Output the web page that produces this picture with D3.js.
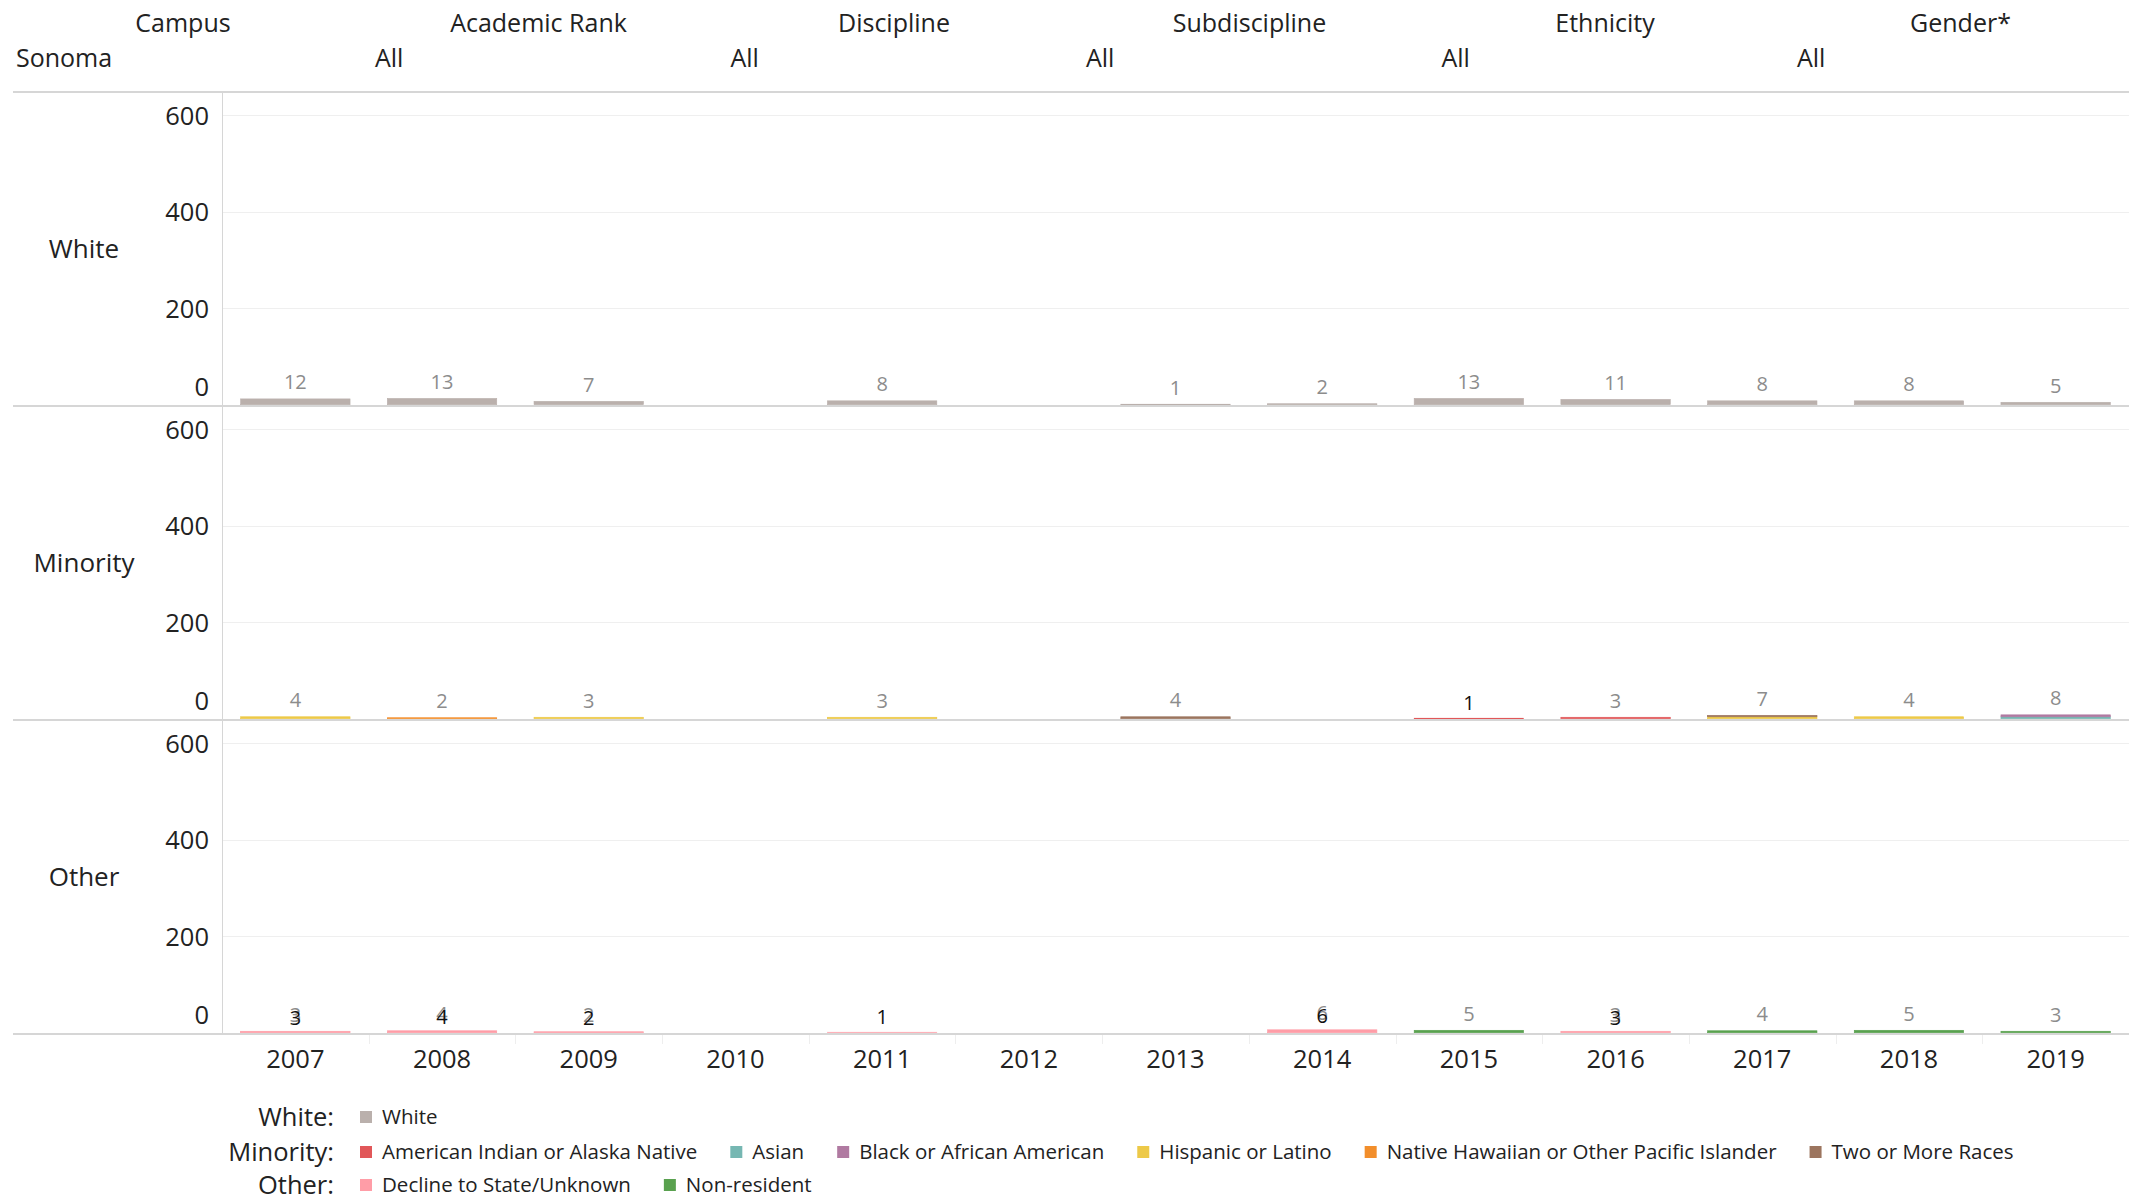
<!DOCTYPE html>
<html>
<head>
<meta charset="utf-8">
<script src="https://cdn.jsdelivr.net/npm/d3@7"></script>
<style>
  html, body { margin: 0; padding: 0; background: #fff; }
  svg { display: block; font-family: "Open Sans", "Noto Sans", sans-serif; }
</style>
</head>
<body>
<svg id="chart" width="2129" height="1201"></svg>
<script>
// ---- data ----
const years = ["2007","2008","2009","2010","2011","2012","2013","2014","2015","2016","2017","2018","2019"];
const rowNames = ["White", "Minority", "Other"];
const yTicks = [0, 200, 400, 600];

const filterTitles = ["Campus", "Academic Rank", "Discipline", "Subdiscipline", "Ethnicity", "Gender*"];
const filterValues = ["Sonoma", "All", "All", "All", "All", "All"];

// White
const whiteCounts          = [12, 13, 7, 0, 8, 0, 1, 2, 13, 11, 8, 8, 5];
// Minority
const americanIndian       = [0, 0, 0, 0, 0, 0, 0, 0, 1, 3, 0, 0, 0];
const asian                = [0, 0, 0, 0, 0, 0, 0, 0, 0, 0, 0, 0, 4];
const blackAfricanAmerican = [0, 0, 0, 0, 0, 0, 0, 0, 0, 0, 0, 0, 4];
const hispanicLatino       = [4, 0, 3, 0, 3, 0, 0, 0, 0, 0, 4, 4, 0];
const nativeHawaiianPI     = [0, 2, 0, 0, 0, 0, 0, 0, 0, 0, 0, 0, 0];
const twoOrMoreRaces       = [0, 0, 0, 0, 0, 0, 4, 0, 0, 0, 3, 0, 0];
// Other
const declineUnknown       = [3, 4, 2, 0, 1, 0, 0, 6, 0, 3, 0, 0, 0];
const nonResident          = [0, 0, 0, 0, 0, 0, 0, 0, 5, 0, 4, 5, 3];

// labels printed in black on top of the grey totals
const minorityDarkLabels = [null, null, null, null, null, null, null, null, 1, null, null, null, null];
const otherDarkLabels    = [3, 4, 2, null, 1, null, null, 6, null, 3, null, null, null];
// years whose grey total label is hidden behind the black one
const minorityGreyHidden = ["2015"];
const otherGreyHidden    = ["2011"];

const seriesInfo = [
  { key: "White", group: "White", color: "#bab0ac", values: whiteCounts },
  { key: "American Indian or Alaska Native", group: "Minority", color: "#e15759", values: americanIndian },
  { key: "Asian", group: "Minority", color: "#76b7b2", values: asian },
  { key: "Black or African American", group: "Minority", color: "#b07aa1", values: blackAfricanAmerican },
  { key: "Hispanic or Latino", group: "Minority", color: "#edc948", values: hispanicLatino },
  { key: "Native Hawaiian or Other Pacific Islander", group: "Minority", color: "#f28e2b", values: nativeHawaiianPI },
  { key: "Two or More Races", group: "Minority", color: "#9c755f", values: twoOrMoreRaces },
  { key: "Decline to State/Unknown", group: "Other", color: "#ff9da7", values: declineUnknown },
  { key: "Non-resident", group: "Other", color: "#59a14f", values: nonResident }
];
const darkLabels = { White: years.map(() => null), Minority: minorityDarkLabels, Other: otherDarkLabels };
const greyHidden = { White: [], Minority: minorityGreyHidden, Other: otherGreyHidden };

// ---- layout ----
const svg = d3.select("#chart");
const W = 2129;
const plotLeft = 222, plotRight = W;
const panelTop0 = 92, panelH = 314;
const lineLeft = 13;
const greyLine = "#d6d6d6";
const textColor = "#222";

const x = d3.scaleBand().domain(years).range([plotLeft, plotRight])
  .paddingInner(0.25).paddingOuter(0.125);

// ---- filter header ----
const colStep = 355.5;
const header = svg.append("g").attr("font-size", 25).attr("fill", textColor);
filterTitles.forEach((t, i) => {
  header.append("text").attr("x", 183 + i * colStep).attr("y", 23.5).attr("dy", "0.35em")
    .attr("text-anchor", "middle").text(t);
  header.append("text").attr("x", 16 + i * colStep + (i === 0 ? 0 : 3.5)).attr("y", 58.5).attr("dy", "0.35em")
    .text(filterValues[i]);
});

svg.append("line").attr("x1", lineLeft).attr("x2", W).attr("y1", panelTop0).attr("y2", panelTop0)
  .attr("stroke", greyLine).attr("stroke-width", 2);

// ---- panels ----
rowNames.forEach((row, pi) => {
  const top = panelTop0 + pi * panelH;
  const bottom = top + panelH;
  const y = d3.scaleLinear().domain([0, 648]).range([bottom - 1, top]);
  const g = svg.append("g");

  // gridlines
  g.selectAll("line.grid").data(yTicks.filter(t => t > 0)).join("line")
    .attr("x1", plotLeft).attr("x2", plotRight)
    .attr("y1", d => Math.round(y(d)) + 0.5).attr("y2", d => Math.round(y(d)) + 0.5)
    .attr("stroke", "#efefef");

  // panel separator (bars sit on top of it)
  g.append("line").attr("x1", lineLeft).attr("x2", W).attr("y1", bottom).attr("y2", bottom)
    .attr("stroke", greyLine).attr("stroke-width", 2);

  // y axis labels
  const ax = g.append("g").attr("transform", `translate(${plotLeft},0)`)
    .call(d3.axisLeft(y).tickValues(yTicks).tickSize(0).tickPadding(13));
  ax.select(".domain").remove();
  ax.selectAll("text").attr("font-family", "'Open Sans', sans-serif").attr("font-size", 25.5).attr("fill", textColor)
    .attr("dy", d => d === 0 ? "-0.38em" : "0.35em");

  // row header
  g.append("text").attr("x", 84).attr("y", (top + bottom) / 2).attr("dy", "0.35em")
    .attr("text-anchor", "middle").attr("font-size", 26).attr("fill", textColor).text(row);

  // stacked bars
  const series = seriesInfo.filter(s => s.group === row);
  const rows = years.map((yr, i) => {
    const r = { year: yr };
    series.forEach(s => { r[s.key] = s.values[i]; });
    return r;
  });
  const stack = d3.stack().keys(series.map(s => s.key))(rows);
  const color = d3.scaleOrdinal().domain(series.map(s => s.key)).range(series.map(s => s.color));

  stack.forEach(layer => {
    g.append("g").attr("fill", color(layer.key)).attr("stroke", color(layer.key)).attr("stroke-width", 0.6)
      .selectAll("rect").data(layer.filter(d => d[1] > d[0])).join("rect")
      .attr("x", d => x(d.data.year) + 0.3)
      .attr("width", x.bandwidth() - 0.6)
      .attr("y", d => y(d[1]) - 0.3)
      .attr("height", d => y(d[0]) - y(d[1]));
  });

  // totals (grey) and black labels
  const totals = rows.map(r => ({ year: r.year, total: d3.sum(series, s => r[s.key]) }));
  g.append("g").attr("font-size", 20).attr("fill", "#8c8c8c").attr("text-anchor", "middle")
    .selectAll("text").data(totals.filter(d => d.total > 0 && !greyHidden[row].includes(d.year))).join("text")
    .attr("x", d => x(d.year) + x.bandwidth() / 2)
    .attr("y", d => y(d.total) - 10)
    .text(d => d.total);

  const dark = years.map((yr, i) => ({ year: yr, v: darkLabels[row][i], total: totals[i].total }))
    .filter(d => d.v != null);
  g.append("g").attr("font-size", 20).attr("fill", "#111").attr("text-anchor", "middle")
    .selectAll("text").data(dark).join("text")
    .attr("x", d => x(d.year) + x.bandwidth() / 2)
    .attr("y", d => y(d.total) - 10 + (greyHidden[row].includes(d.year) ? 1 : 3))
    .text(d => d.v);
});

const plotBottom = panelTop0 + 3 * panelH;

// vertical axis rule
svg.append("line").attr("x1", plotLeft + 0.5).attr("x2", plotLeft + 0.5)
  .attr("y1", panelTop0).attr("y2", plotBottom).attr("stroke", greyLine);

// x axis
const xa = svg.append("g").attr("transform", `translate(0,${plotBottom})`)
  .call(d3.axisBottom(x).tickSize(0).tickPadding(0));
xa.select(".domain").remove();
xa.selectAll("text").attr("font-family", "'Open Sans', sans-serif").attr("font-size", 25.5).attr("fill", textColor)
  .attr("y", 25.5).attr("dy", "0.35em");

// faint column dividers under the axis
svg.append("g").selectAll("line").data(years.slice(1)).join("line")
  .attr("x1", d => Math.round(x(d) - x.step() * 0.125) + 0.5)
  .attr("x2", d => Math.round(x(d) - x.step() * 0.125) + 0.5)
  .attr("y1", plotBottom + 1).attr("y2", plotBottom + 10)
  .attr("stroke", "#eeeeee");

// ---- legend ----
const legendRows = [
  { title: "White:", y: 1117 },
  { title: "Minority:", y: 1152 },
  { title: "Other:", y: 1185 }
];
const legend = svg.append("g");
legendRows.forEach(lr => {
  const group = lr.title.replace(":", "");
  legend.append("text").attr("x", 334).attr("y", lr.y).attr("dy", "0.35em")
    .attr("text-anchor", "end").attr("font-size", 25.5).attr("fill", textColor).text(lr.title);
  let cx = 360;
  seriesInfo.filter(s => s.group === group).forEach(s => {
    legend.append("rect").attr("x", cx).attr("y", lr.y - 6).attr("width", 12).attr("height", 12)
      .attr("fill", s.color);
    const t = legend.append("text").attr("x", cx + 22).attr("y", lr.y).attr("dy", "0.35em")
      .attr("font-size", 20.5).attr("fill", textColor).text(s.key);
    cx += 22 + t.node().getComputedTextLength() + 33;
  });
});
</script>
</body>
</html>
